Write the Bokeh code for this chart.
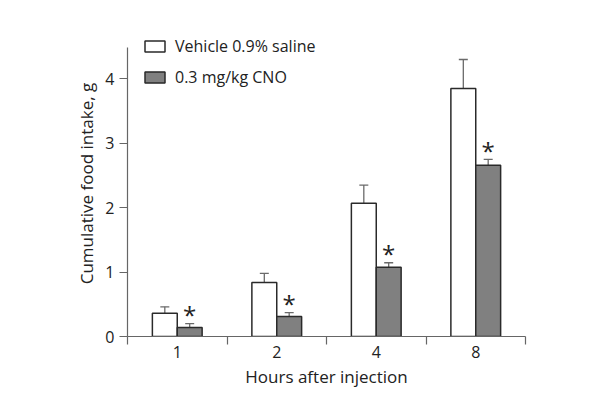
from bokeh.plotting import figure
from bokeh.models import (ColumnDataSource, FixedTicker, Legend, LegendItem,
                          Whisker, TeeHead, Range1d)
from bokeh.core.properties import value
from bokeh.embed import file_html
from bokeh.resources import INLINE

hours = ["1", "2", "4", "8"]
vehicle = [0.36, 0.84, 2.07, 3.85]
vehicle_err = [0.10, 0.14, 0.28, 0.45]
cno = [0.14, 0.31, 1.075, 2.66]
cno_err = [0.06, 0.06, 0.07, 0.09]
series_names = ["Vehicle 0.9% saline", "0.3 mg/kg CNO"]
y_ticks = [0, 1, 2, 3, 4]

FONT = "Open Sans"
n = len(hours)
centers = [i + 0.5 for i in range(n)]
bw = 0.25

p = figure(width=584, height=404, output_backend="svg", toolbar_location=None,
           x_range=Range1d(0, n), y_range=Range1d(0, 4.75),
           min_border_left=127, min_border_right=59,
           min_border_top=30, min_border_bottom=68)
p.outline_line_color = None
p.grid.visible = False
p.background_fill_color = "white"
p.border_fill_color = "white"

src_v = ColumnDataSource(dict(x=[c - bw / 2 for c in centers], top=vehicle,
                              up=[v + e for v, e in zip(vehicle, vehicle_err)]))
src_c = ColumnDataSource(dict(x=[c + bw / 2 for c in centers], top=cno,
                              up=[v + e for v, e in zip(cno, cno_err)],
                              star=["*"] * n))

wv = Whisker(base="x", lower="top", upper="up", source=src_v, dimension="height",
             line_color="#6a6a6a", line_width=1.3, lower_head=None,
             upper_head=TeeHead(size=9, line_color="#6a6a6a", line_width=1.3))
wc = Whisker(base="x", lower="top", upper="up", source=src_c, dimension="height",
             line_color="#6a6a6a", line_width=1.3, lower_head=None,
             upper_head=TeeHead(size=9, line_color="#6a6a6a", line_width=1.3))
p.add_layout(wv)
p.add_layout(wc)

r_v = p.vbar(x="x", top="top", width=bw, bottom=0, source=src_v,
             fill_color="white", line_color="#2a2a2a", line_width=1.5)
r_c = p.vbar(x="x", top="top", width=bw, bottom=0, source=src_c,
             fill_color="#808080", line_color="#2a2a2a", line_width=1.5)

p.text(x="x", y="up", text="star", source=src_c, text_font=value(FONT),
       text_font_size="24px", text_align="center", text_baseline="middle",
       y_offset=-9, text_color="#222222")

# axes
xa = p.xaxis[0]
xa.ticker = FixedTicker(ticks=centers, minor_ticks=[0, 1, 2, 3, 4])
xa.major_label_overrides = {c: h for c, h in zip(centers, hours)}
xa.major_tick_out = 0
xa.major_tick_in = 0
xa.minor_tick_out = 8
xa.minor_tick_in = 0
xa.major_label_standoff = 1
xa.axis_label = "Hours after injection"
xa.axis_label_standoff = 4
xa.bounds = (0, n)

ya = p.yaxis[0]
ya.ticker = FixedTicker(ticks=y_ticks)
ya.minor_tick_out = 0
ya.minor_tick_in = 0
ya.major_tick_out = 8
ya.major_tick_in = 0
ya.major_label_standoff = 5
ya.axis_label = "Cumulative food intake, g"
ya.axis_label_standoff = 4
ya.bounds = (0, 4.48)

for ax in (xa, ya):
    ax.axis_line_color = "#666666"
    ax.axis_line_width = 1.2
    ax.major_tick_line_color = "#666666"
    ax.minor_tick_line_color = "#666666"
    ax.major_tick_line_width = 1.2
    ax.minor_tick_line_width = 1.2
    ax.major_label_text_font = FONT
    ax.major_label_text_font_size = "16px"
    ax.major_label_text_color = "#222222"
    ax.axis_label_text_font = FONT
    ax.axis_label_text_font_size = "17px"
    ax.axis_label_text_font_style = "normal"
    ax.axis_label_text_color = "#222222"

legend = Legend(items=[LegendItem(label=series_names[0], renderers=[r_v]),
                       LegendItem(label=series_names[1], renderers=[r_c])],
                location=(15, 248), padding=0, margin=0, spacing=9,
                glyph_width=25, glyph_height=14, label_height=14,
                label_standoff=8, border_line_color=None,
                background_fill_alpha=0,
                label_text_font=FONT, label_text_font_size="16px",
                label_text_color="#222222")
p.add_layout(legend)

open("out.html", "w").write(file_html(p, INLINE))
